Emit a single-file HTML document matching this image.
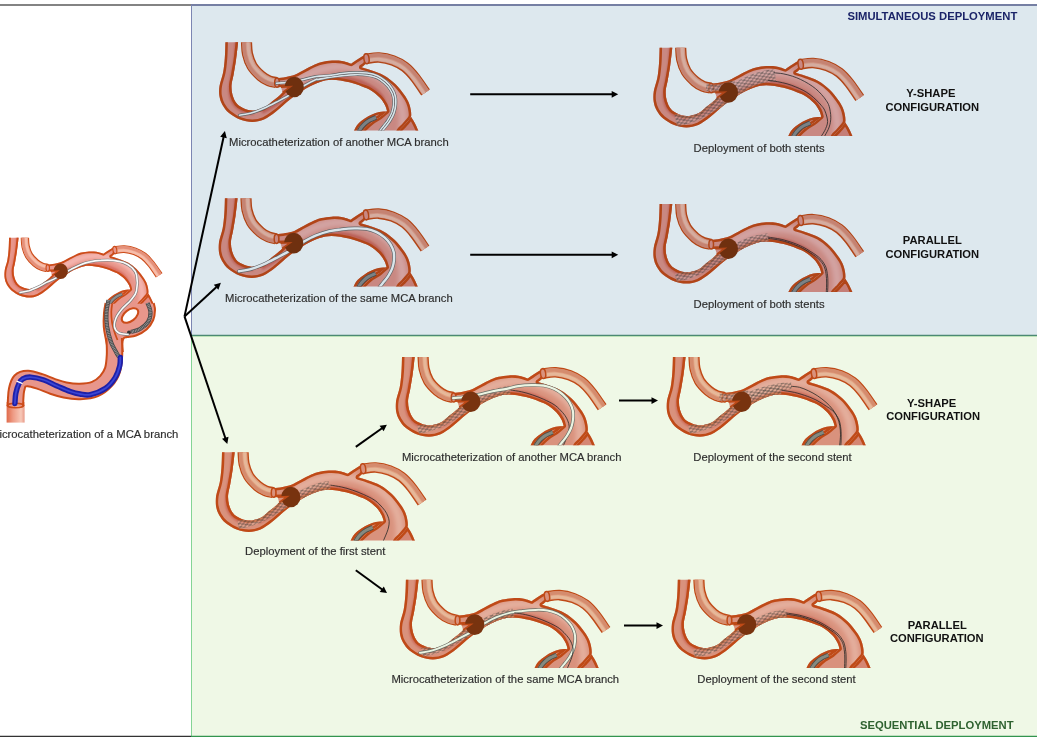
<!DOCTYPE html>
<html><head><meta charset="utf-8"><style>
html,body{margin:0;padding:0;background:#fff;}
svg{display:block;font-family:"Liberation Sans",sans-serif;}
.mul{mix-blend-mode:multiply;}
</style></head><body>
<svg width="1037" height="740" viewBox="0 0 1037 740">
<defs>
<clipPath id="mainclip"><path d="M225.5,34.0 C225.5,35.3 225.5,38.0 225.4,42.0 C225.3,46.0 225.2,52.9 224.8,58.0 C224.4,63.1 224.0,67.7 223.1,72.4 C222.2,77.1 220.1,82.1 219.5,86.0 C218.9,89.9 218.9,92.8 219.4,96.0 C219.9,99.2 220.9,102.2 222.5,105.0 C224.1,107.8 226.1,110.6 229.0,113.0 C231.9,115.4 236.1,118.0 240.0,119.5 C243.9,121.0 248.3,121.9 252.3,121.9 C256.3,121.9 260.1,121.2 264.0,119.5 C267.9,117.8 271.7,114.8 276.0,111.5 C280.3,108.2 285.0,103.3 290.0,99.5 C295.0,95.7 301.0,91.4 306.0,88.5 C311.0,85.6 315.7,83.5 320.0,82.0 C324.3,80.5 327.1,79.8 332.0,79.8 C336.9,79.8 344.4,81.2 349.4,82.3 C354.4,83.4 358.4,85.1 362.0,86.5 C365.6,87.9 368.1,88.7 371.0,90.5 C373.9,92.3 377.4,95.1 379.7,97.5 C382.0,99.9 383.8,102.8 385.0,105.0 C386.2,107.2 386.7,110.0 387.0,111.0 C385.8,112.0 382.5,115.2 380.0,117.0 C377.5,118.8 374.8,119.8 372.0,122.0 C369.2,124.2 365.5,127.7 363.0,130.4 C360.5,133.1 358.0,136.7 357.0,138.0 L396.0,138.0 C396.6,136.7 398.2,132.3 399.4,130.4 C400.6,128.5 401.9,127.9 403.3,126.3 C404.7,124.7 406.7,122.6 408.0,121.0 C409.3,119.4 410.5,118.5 411.0,116.7 C411.5,114.9 411.2,112.5 410.8,110.0 C410.4,107.5 409.6,104.6 408.5,102.0 C407.4,99.4 406.2,97.5 404.0,94.5 C401.8,91.5 398.6,87.2 395.3,84.0 C392.0,80.8 388.1,77.7 384.0,75.4 C379.9,73.1 374.8,71.6 371.0,70.2 C367.2,68.8 363.1,67.7 361.5,67.2 C362.1,66.8 364.0,65.7 365.0,64.5 C366.0,63.3 367.1,61.6 367.5,60.0 C367.9,58.4 367.2,55.7 367.2,54.8 C366.3,55.1 363.8,55.6 362.0,56.5 C360.2,57.4 358.3,58.8 356.5,60.0 C354.7,61.2 352.1,63.1 351.2,63.7 C349.7,63.2 345.2,61.5 342.0,61.0 C338.8,60.5 335.4,60.4 332.1,60.6 C328.8,60.8 324.9,61.4 322.0,62.0 C319.1,62.6 317.7,63.2 314.7,64.5 C311.7,65.8 307.3,68.3 304.0,70.0 C300.7,71.7 297.8,73.6 294.8,74.8 C291.8,76.0 288.9,76.4 286.0,77.0 C283.1,77.6 278.7,78.0 277.2,78.2 L277.4,87.2 L290.5,86.7 L284.5,90.6 C283.7,91.4 281.6,93.7 279.5,95.5 C277.4,97.3 274.6,99.4 272.0,101.5 C269.4,103.6 266.9,106.5 263.6,108.0 C260.3,109.5 255.7,110.6 252.3,110.6 C248.9,110.6 245.6,109.2 243.0,108.0 C240.4,106.8 238.4,105.8 236.7,103.6 C234.9,101.4 233.4,98.1 232.5,95.0 C231.6,91.9 231.3,88.3 231.5,85.0 C231.7,81.7 232.8,79.2 233.5,75.0 C234.2,70.8 235.2,65.5 236.0,60.0 C236.8,54.5 237.8,45.0 238.1,42.0 L238.2,34.0Z"/></clipPath>
<clipPath id="rpclip"><path d="M411.0,116.7 C411.6,117.7 413.3,120.2 414.5,122.5 C415.7,124.8 417.1,127.8 418.2,130.4 C419.3,133.0 420.5,136.7 421.0,138.0 L396.0,138.0 C396.6,136.7 398.2,132.3 399.4,130.4 C400.6,128.5 401.9,127.9 403.3,126.3 C404.7,124.7 406.7,122.6 408.0,121.0 C409.3,119.4 410.5,117.4 411.0,116.7Z"/></clipPath>
<clipPath id="lbclip"><path d="M351.0,138.0 C351.5,136.7 352.9,132.7 354.1,130.4 C355.3,128.1 356.2,126.0 358.0,124.0 C359.8,122.0 362.4,120.2 364.7,118.6 C367.0,117.0 369.6,115.6 372.0,114.5 C374.4,113.4 376.7,112.4 379.2,111.9 C381.7,111.4 385.6,111.5 386.9,111.4 C385.8,112.3 382.5,115.2 380.0,117.0 C377.5,118.8 374.8,119.8 372.0,122.0 C369.2,124.2 365.5,127.7 363.0,130.4 C360.5,133.1 358.0,136.7 357.0,138.0Z"/></clipPath>
<filter id="bl2" x="-20%" y="-20%" width="140%" height="140%"><feGaussianBlur stdDeviation="2"/></filter>
<filter id="bl05" x="-20%" y="-20%" width="140%" height="140%"><feGaussianBlur stdDeviation="0.7"/></filter>
<filter id="bl1" x="-20%" y="-20%" width="140%" height="140%"><feGaussianBlur stdDeviation="1.2"/></filter>
<clipPath id="tclip" clipPathUnits="userSpaceOnUse"><rect x="150" y="42.2" width="320" height="88.2"/></clipPath>
<g id="vessel">
  <path d="M246.4,34.0 C246.4,35.3 246.3,38.7 246.5,42.0 C246.7,45.3 246.6,50.0 247.5,54.0 C248.4,58.0 249.8,62.3 252.0,66.0 C254.2,69.7 258.2,73.5 261.0,76.0 C263.8,78.5 266.4,79.7 269.0,80.8 C271.6,81.9 275.2,82.3 276.5,82.6" fill="none" stroke="#cc4c19" stroke-width="11.2" stroke-linecap="butt"/>
  <path d="M246.4,34.0 C246.4,35.3 246.3,38.7 246.5,42.0 C246.7,45.3 246.6,50.0 247.5,54.0 C248.4,58.0 249.8,62.3 252.0,66.0 C254.2,69.7 258.2,73.5 261.0,76.0 C263.8,78.5 266.4,79.7 269.0,80.8 C271.6,81.9 275.2,82.3 276.5,82.6" fill="none" stroke="#efa48e" stroke-width="8.4" stroke-linecap="butt"/>
  <path d="M243.8,34.0 C243.8,35.4 243.7,38.7 243.9,42.1 C244.1,45.6 244.0,50.4 245.0,54.6 C245.9,58.8 247.4,63.5 249.8,67.4 C252.2,71.3 256.3,75.3 259.3,78.0 C262.3,80.6 265.2,82.0 268.0,83.2 C270.7,84.4 274.6,84.8 275.9,85.1" fill="none" stroke="#e4907a" stroke-width="3.5" stroke-linecap="butt" filter="url(#bl05)"/>
  <path d="M247.9,34.0 C247.9,35.3 247.8,38.6 248.0,41.9 C248.2,45.2 248.1,49.8 249.0,53.7 C249.8,57.5 251.1,61.7 253.3,65.2 C255.4,68.7 259.3,72.5 262.0,74.9 C264.7,77.2 267.1,78.4 269.6,79.4 C272.1,80.5 275.6,80.9 276.9,81.1" fill="none" stroke="#f6bdaa" stroke-width="3" stroke-linecap="butt" filter="url(#bl05)"/>
  <path d="M366.0,58.8 C368.2,58.6 374.5,57.2 379.0,57.5 C383.5,57.8 388.7,58.9 393.0,60.5 C397.3,62.1 401.3,64.2 405.0,67.0 C408.7,69.8 411.6,73.2 415.0,77.5 C418.4,81.8 423.8,90.0 425.5,92.5" fill="none" stroke="#cc4c19" stroke-width="10.6" stroke-linecap="butt"/>
  <path d="M366.0,58.8 C368.2,58.6 374.5,57.2 379.0,57.5 C383.5,57.8 388.7,58.9 393.0,60.5 C397.3,62.1 401.3,64.2 405.0,67.0 C408.7,69.8 411.6,73.2 415.0,77.5 C418.4,81.8 423.8,90.0 425.5,92.5" fill="none" stroke="#efa48e" stroke-width="7.8" stroke-linecap="butt"/>
  <path d="M365.8,56.4 C368.0,56.2 374.5,54.8 379.2,55.1 C383.8,55.4 389.3,56.6 393.8,58.2 C398.4,59.9 402.6,62.1 406.5,65.1 C410.3,68.1 413.4,71.7 416.9,76.0 C420.4,80.3 425.7,88.6 427.5,91.1" fill="none" stroke="#e4907a" stroke-width="3.5" stroke-linecap="butt" filter="url(#bl05)"/>
  <path d="M366.2,60.6 C368.3,60.4 374.5,59.0 378.9,59.3 C383.3,59.6 388.2,60.7 392.4,62.2 C396.6,63.7 400.4,65.7 403.9,68.4 C407.4,71.2 410.2,74.4 413.6,78.6 C417.0,82.8 422.3,91.0 424.0,93.5" fill="none" stroke="#f6bdaa" stroke-width="3" stroke-linecap="butt" filter="url(#bl05)"/>
  <path d="M225.5,34.0 C225.5,35.3 225.5,38.0 225.4,42.0 C225.3,46.0 225.2,52.9 224.8,58.0 C224.4,63.1 224.0,67.7 223.1,72.4 C222.2,77.1 220.1,82.1 219.5,86.0 C218.9,89.9 218.9,92.8 219.4,96.0 C219.9,99.2 220.9,102.2 222.5,105.0 C224.1,107.8 226.1,110.6 229.0,113.0 C231.9,115.4 236.1,118.0 240.0,119.5 C243.9,121.0 248.3,121.9 252.3,121.9 C256.3,121.9 260.1,121.2 264.0,119.5 C267.9,117.8 271.7,114.8 276.0,111.5 C280.3,108.2 285.0,103.3 290.0,99.5 C295.0,95.7 301.0,91.4 306.0,88.5 C311.0,85.6 315.7,83.5 320.0,82.0 C324.3,80.5 327.1,79.8 332.0,79.8 C336.9,79.8 344.4,81.2 349.4,82.3 C354.4,83.4 358.4,85.1 362.0,86.5 C365.6,87.9 368.1,88.7 371.0,90.5 C373.9,92.3 377.4,95.1 379.7,97.5 C382.0,99.9 383.8,102.8 385.0,105.0 C386.2,107.2 386.7,110.0 387.0,111.0 C385.8,112.0 382.5,115.2 380.0,117.0 C377.5,118.8 374.8,119.8 372.0,122.0 C369.2,124.2 365.5,127.7 363.0,130.4 C360.5,133.1 358.0,136.7 357.0,138.0 L396.0,138.0 C396.6,136.7 398.2,132.3 399.4,130.4 C400.6,128.5 401.9,127.9 403.3,126.3 C404.7,124.7 406.7,122.6 408.0,121.0 C409.3,119.4 410.5,118.5 411.0,116.7 C411.5,114.9 411.2,112.5 410.8,110.0 C410.4,107.5 409.6,104.6 408.5,102.0 C407.4,99.4 406.2,97.5 404.0,94.5 C401.8,91.5 398.6,87.2 395.3,84.0 C392.0,80.8 388.1,77.7 384.0,75.4 C379.9,73.1 374.8,71.6 371.0,70.2 C367.2,68.8 363.1,67.7 361.5,67.2 C362.1,66.8 364.0,65.7 365.0,64.5 C366.0,63.3 367.1,61.6 367.5,60.0 C367.9,58.4 367.2,55.7 367.2,54.8 C366.3,55.1 363.8,55.6 362.0,56.5 C360.2,57.4 358.3,58.8 356.5,60.0 C354.7,61.2 352.1,63.1 351.2,63.7 C349.7,63.2 345.2,61.5 342.0,61.0 C338.8,60.5 335.4,60.4 332.1,60.6 C328.8,60.8 324.9,61.4 322.0,62.0 C319.1,62.6 317.7,63.2 314.7,64.5 C311.7,65.8 307.3,68.3 304.0,70.0 C300.7,71.7 297.8,73.6 294.8,74.8 C291.8,76.0 288.9,76.4 286.0,77.0 C283.1,77.6 278.7,78.0 277.2,78.2 L277.4,87.2 L290.5,86.7 L284.5,90.6 C283.7,91.4 281.6,93.7 279.5,95.5 C277.4,97.3 274.6,99.4 272.0,101.5 C269.4,103.6 266.9,106.5 263.6,108.0 C260.3,109.5 255.7,110.6 252.3,110.6 C248.9,110.6 245.6,109.2 243.0,108.0 C240.4,106.8 238.4,105.8 236.7,103.6 C234.9,101.4 233.4,98.1 232.5,95.0 C231.6,91.9 231.3,88.3 231.5,85.0 C231.7,81.7 232.8,79.2 233.5,75.0 C234.2,70.8 235.2,65.5 236.0,60.0 C236.8,54.5 237.8,45.0 238.1,42.0 L238.2,34.0Z" fill="#e8968b"/>
  <g clip-path="url(#mainclip)">
    <path d="M298.0,80.0 C301.3,78.4 311.3,72.8 318.0,70.5 C324.7,68.2 331.3,66.8 338.0,66.5 C344.7,66.2 351.7,67.0 358.0,68.5 C364.3,70.0 370.5,72.4 376.0,75.5 C381.5,78.6 387.0,82.6 391.0,87.0 C395.0,91.4 398.0,96.8 400.0,102.0 C402.0,107.2 402.7,113.0 403.0,118.0 C403.3,123.0 402.2,129.7 402.0,132.0" fill="none" stroke="#f4b4ae" stroke-width="8" filter="url(#bl2)"/>
    <path d="M237.0,40.0 C236.8,43.3 236.3,53.7 235.5,60.0 C234.7,66.3 232.8,72.7 232.0,78.0 C231.2,83.3 230.2,87.8 230.5,92.0 C230.8,96.2 231.8,99.8 234.0,103.0 C236.2,106.2 240.7,109.3 244.0,111.0 C247.3,112.7 252.3,112.7 254.0,113.0" fill="none" stroke="#d8695d" stroke-width="4" filter="url(#bl1)"/>
    <path d="M262.0,112.0 C264.3,110.7 271.0,107.2 276.0,104.0 C281.0,100.8 286.3,96.3 292.0,93.0 C297.7,89.7 303.7,86.4 310.0,84.0 C316.3,81.6 323.3,79.3 330.0,78.5 C336.7,77.7 343.7,77.8 350.0,79.0 C356.3,80.2 362.8,82.7 368.0,85.5 C373.2,88.3 378.0,92.2 381.0,96.0 C384.0,99.8 385.2,106.0 386.0,108.0" fill="none" stroke="#d8695d" stroke-width="4" filter="url(#bl1)"/>
  </g>
  <path d="M225.5,34.0 C225.5,35.3 225.5,38.0 225.4,42.0 C225.3,46.0 225.2,52.9 224.8,58.0 C224.4,63.1 224.0,67.7 223.1,72.4 C222.2,77.1 220.1,82.1 219.5,86.0 C218.9,89.9 218.9,92.8 219.4,96.0 C219.9,99.2 220.9,102.2 222.5,105.0 C224.1,107.8 226.1,110.6 229.0,113.0 C231.9,115.4 236.1,118.0 240.0,119.5 C243.9,121.0 248.3,121.9 252.3,121.9 C256.3,121.9 260.1,121.2 264.0,119.5 C267.9,117.8 271.7,114.8 276.0,111.5 C280.3,108.2 285.0,103.3 290.0,99.5 C295.0,95.7 301.0,91.4 306.0,88.5 C311.0,85.6 315.7,83.5 320.0,82.0 C324.3,80.5 327.1,79.8 332.0,79.8 C336.9,79.8 344.4,81.2 349.4,82.3 C354.4,83.4 358.4,85.1 362.0,86.5 C365.6,87.9 368.1,88.7 371.0,90.5 C373.9,92.3 377.4,95.1 379.7,97.5 C382.0,99.9 383.8,102.8 385.0,105.0 C386.2,107.2 386.7,110.0 387.0,111.0 C385.8,112.0 382.5,115.2 380.0,117.0 C377.5,118.8 374.8,119.8 372.0,122.0 C369.2,124.2 365.5,127.7 363.0,130.4 C360.5,133.1 358.0,136.7 357.0,138.0 L396.0,138.0 C396.6,136.7 398.2,132.3 399.4,130.4 C400.6,128.5 401.9,127.9 403.3,126.3 C404.7,124.7 406.7,122.6 408.0,121.0 C409.3,119.4 410.5,118.5 411.0,116.7 C411.5,114.9 411.2,112.5 410.8,110.0 C410.4,107.5 409.6,104.6 408.5,102.0 C407.4,99.4 406.2,97.5 404.0,94.5 C401.8,91.5 398.6,87.2 395.3,84.0 C392.0,80.8 388.1,77.7 384.0,75.4 C379.9,73.1 374.8,71.6 371.0,70.2 C367.2,68.8 363.1,67.7 361.5,67.2 C362.1,66.8 364.0,65.7 365.0,64.5 C366.0,63.3 367.1,61.6 367.5,60.0 C367.9,58.4 367.2,55.7 367.2,54.8 C366.3,55.1 363.8,55.6 362.0,56.5 C360.2,57.4 358.3,58.8 356.5,60.0 C354.7,61.2 352.1,63.1 351.2,63.7 C349.7,63.2 345.2,61.5 342.0,61.0 C338.8,60.5 335.4,60.4 332.1,60.6 C328.8,60.8 324.9,61.4 322.0,62.0 C319.1,62.6 317.7,63.2 314.7,64.5 C311.7,65.8 307.3,68.3 304.0,70.0 C300.7,71.7 297.8,73.6 294.8,74.8 C291.8,76.0 288.9,76.4 286.0,77.0 C283.1,77.6 278.7,78.0 277.2,78.2 L277.4,87.2 L290.5,86.7 L284.5,90.6 C283.7,91.4 281.6,93.7 279.5,95.5 C277.4,97.3 274.6,99.4 272.0,101.5 C269.4,103.6 266.9,106.5 263.6,108.0 C260.3,109.5 255.7,110.6 252.3,110.6 C248.9,110.6 245.6,109.2 243.0,108.0 C240.4,106.8 238.4,105.8 236.7,103.6 C234.9,101.4 233.4,98.1 232.5,95.0 C231.6,91.9 231.3,88.3 231.5,85.0 C231.7,81.7 232.8,79.2 233.5,75.0 C234.2,70.8 235.2,65.5 236.0,60.0 C236.8,54.5 237.8,45.0 238.1,42.0 L238.2,34.0Z" fill="none" stroke="#cc4c19" stroke-width="5.0" stroke-linejoin="round" clip-path="url(#mainclip)"/>
  <path d="M411.0,116.7 C411.6,117.7 413.3,120.2 414.5,122.5 C415.7,124.8 417.1,127.8 418.2,130.4 C419.3,133.0 420.5,136.7 421.0,138.0 L396.0,138.0 C396.6,136.7 398.2,132.3 399.4,130.4 C400.6,128.5 401.9,127.9 403.3,126.3 C404.7,124.7 406.7,122.6 408.0,121.0 C409.3,119.4 410.5,117.4 411.0,116.7Z" fill="#e48a80"/>
  <path d="M411.0,116.7 C411.6,117.7 413.3,120.2 414.5,122.5 C415.7,124.8 417.1,127.8 418.2,130.4 C419.3,133.0 420.5,136.7 421.0,138.0 L396.0,138.0 C396.6,136.7 398.2,132.3 399.4,130.4 C400.6,128.5 401.9,127.9 403.3,126.3 C404.7,124.7 406.7,122.6 408.0,121.0 C409.3,119.4 410.5,117.4 411.0,116.7Z" fill="none" stroke="#cc4c19" stroke-width="5.0" stroke-linejoin="round" clip-path="url(#rpclip)"/>
  <path d="M351.0,138.0 C351.5,136.7 352.9,132.7 354.1,130.4 C355.3,128.1 356.2,126.0 358.0,124.0 C359.8,122.0 362.4,120.2 364.7,118.6 C367.0,117.0 369.6,115.6 372.0,114.5 C374.4,113.4 376.7,112.4 379.2,111.9 C381.7,111.4 385.6,111.5 386.9,111.4 C385.8,112.3 382.5,115.2 380.0,117.0 C377.5,118.8 374.8,119.8 372.0,122.0 C369.2,124.2 365.5,127.7 363.0,130.4 C360.5,133.1 358.0,136.7 357.0,138.0Z" fill="#e8968b"/>
  <path d="M351.0,138.0 C351.5,136.7 352.9,132.7 354.1,130.4 C355.3,128.1 356.2,126.0 358.0,124.0 C359.8,122.0 362.4,120.2 364.7,118.6 C367.0,117.0 369.6,115.6 372.0,114.5 C374.4,113.4 376.7,112.4 379.2,111.9 C381.7,111.4 385.6,111.5 386.9,111.4 C385.8,112.3 382.5,115.2 380.0,117.0 C377.5,118.8 374.8,119.8 372.0,122.0 C369.2,124.2 365.5,127.7 363.0,130.4 C360.5,133.1 358.0,136.7 357.0,138.0Z" fill="none" stroke="#cc4c19" stroke-width="5.0" stroke-linejoin="round" clip-path="url(#lbclip)"/>
  <ellipse cx="277" cy="82.7" rx="2.3" ry="4.6" fill="#e8968b" stroke="#cc4c19" stroke-width="1.5"/>
  <ellipse cx="366.5" cy="58.8" rx="2.6" ry="5" transform="rotate(-8 366.5 58.8)" fill="#e8968b" stroke="#cc4c19" stroke-width="1.5"/>
</g>
<g id="aneu">
  <ellipse cx="294.2" cy="87.0" rx="9.6" ry="10.3" fill="#803410"/>
  <path d="M281,87.1 L290.5,86.7 L282.6,92.4 Z" fill="#e8968b"/><path d="M281,87.1 L290.5,86.7 L282.6,92.4" fill="none" stroke="#cc4c19" stroke-width="1.6" stroke-linejoin="miter"/>
</g>

<linearGradient id="stubg" x1="0" x2="1" y1="0" y2="0"><stop offset="0" stop-color="#e06a4a"/><stop offset="0.35" stop-color="#ee9a84"/><stop offset="0.8" stop-color="#f7c8b8"/><stop offset="1" stop-color="#e89a88"/></linearGradient>
<pattern id="mesh" width="6.4" height="3.6" patternUnits="userSpaceOnUse" patternTransform="rotate(-22)">
<path d="M0,0 L6.4,3.6 M0,3.6 L6.4,0" stroke="#2c2c2c" stroke-width="0.45" fill="none"/></pattern>
</defs>
<rect x="191" y="4" width="846" height="331" fill="#dde8ee"/>
<rect x="191" y="335" width="846" height="401.5" fill="#eff8e6"/>
<g class="mul"><g transform="translate(0,0)"><g clip-path="url(#tclip)"><use href="#vessel"/><path d="M357.2,136.0 C357.7,134.9 358.8,131.5 360.0,129.5 C361.2,127.5 362.7,125.7 364.3,124.2 C365.9,122.7 367.6,121.4 369.5,120.3 C371.4,119.2 374.9,117.9 376.0,117.4" fill="none" stroke="#505050" stroke-width="4.6" stroke-linecap="butt"/><path d="M357.2,136.0 C357.7,134.9 358.8,131.5 360.0,129.5 C361.2,127.5 362.7,125.7 364.3,124.2 C365.9,122.7 367.6,121.4 369.5,120.3 C371.4,119.2 374.9,117.9 376.0,117.4" fill="none" stroke="#8e8e8e" stroke-width="3" stroke-linecap="butt"/><path d="M239.5,115.2 C241.6,114.8 247.9,114.0 252.0,112.8 C256.1,111.6 260.0,110.0 264.0,108.3 C268.0,106.5 272.2,104.3 276.0,102.3 C279.8,100.3 283.7,98.4 287.0,96.5 C290.3,94.6 293.1,92.6 296.0,90.8 C298.9,89.0 301.1,87.4 304.4,85.5 C307.7,83.6 313.7,80.5 316.0,79.5 C318.3,78.5 315.7,79.9 318.0,79.5 C320.3,79.1 326.0,77.9 330.0,77.2 C334.0,76.5 338.0,76.0 342.1,75.6 C346.3,75.2 350.9,74.7 355.0,74.6 C359.1,74.5 363.3,74.6 366.9,75.1 C370.5,75.6 373.7,76.3 376.6,77.6 C379.6,78.9 382.1,80.8 384.4,82.8 C386.7,84.8 388.8,87.1 390.2,89.5 C391.7,91.8 392.8,94.5 393.3,97.0 C393.9,99.5 393.8,102.1 393.6,104.7 C393.4,107.3 392.8,110.0 392.0,112.5 C391.1,115.0 389.6,117.6 388.2,119.8 C386.9,122.0 385.2,123.9 383.8,125.7 C382.4,127.6 381.0,129.0 379.8,130.8 C378.5,132.5 376.8,135.4 376.2,136.3" fill="none" stroke="#6f6f6f" stroke-width="2.9000000000000004" stroke-linecap="round"/><path d="M239.5,115.2 C241.6,114.8 247.9,114.0 252.0,112.8 C256.1,111.6 260.0,110.0 264.0,108.3 C268.0,106.5 272.2,104.3 276.0,102.3 C279.8,100.3 283.7,98.4 287.0,96.5 C290.3,94.6 293.1,92.6 296.0,90.8 C298.9,89.0 301.1,87.4 304.4,85.5 C307.7,83.6 313.7,80.5 316.0,79.5 C318.3,78.5 315.7,79.9 318.0,79.5 C320.3,79.1 326.0,77.9 330.0,77.2 C334.0,76.5 338.0,76.0 342.1,75.6 C346.3,75.2 350.9,74.7 355.0,74.6 C359.1,74.5 363.3,74.6 366.9,75.1 C370.5,75.6 373.7,76.3 376.6,77.6 C379.6,78.9 382.1,80.8 384.4,82.8 C386.7,84.8 388.8,87.1 390.2,89.5 C391.7,91.8 392.8,94.5 393.3,97.0 C393.9,99.5 393.8,102.1 393.6,104.7 C393.4,107.3 392.8,110.0 392.0,112.5 C391.1,115.0 389.6,117.6 388.2,119.8 C386.9,122.0 385.2,123.9 383.8,125.7 C382.4,127.6 381.0,129.0 379.8,130.8 C378.5,132.5 376.8,135.4 376.2,136.3" fill="none" stroke="#fbfbfb" stroke-width="1.6" stroke-linecap="round"/><path d="M276.5,83.3 C277.9,83.2 282.1,82.9 285.0,82.6 C287.9,82.2 291.1,81.7 294.0,81.2 C296.9,80.7 298.9,80.5 302.6,79.7 C306.3,78.9 311.4,77.2 316.0,76.5 C320.6,75.8 325.7,75.9 330.0,75.4 C334.3,74.9 337.7,74.0 341.8,73.5 C346.0,73.0 350.8,72.6 355.0,72.5 C359.2,72.4 363.4,72.5 367.2,73.0 C370.9,73.5 374.4,74.3 377.5,75.7 C380.6,77.1 383.4,79.1 385.8,81.2 C388.2,83.3 390.4,85.8 392.0,88.4 C393.6,90.9 394.8,93.8 395.4,96.5 C396.0,99.3 395.9,102.1 395.7,104.9 C395.5,107.7 394.9,110.5 393.9,113.2 C393.0,115.9 391.4,118.6 390.0,120.9 C388.6,123.2 386.9,125.2 385.4,127.0 C384.0,128.9 382.7,130.3 381.5,132.0 C380.2,133.7 378.6,136.5 378.0,137.4" fill="none" stroke="#6f6f6f" stroke-width="2.9000000000000004" stroke-linecap="round"/><path d="M276.5,83.3 C277.9,83.2 282.1,82.9 285.0,82.6 C287.9,82.2 291.1,81.7 294.0,81.2 C296.9,80.7 298.9,80.5 302.6,79.7 C306.3,78.9 311.4,77.2 316.0,76.5 C320.6,75.8 325.7,75.9 330.0,75.4 C334.3,74.9 337.7,74.0 341.8,73.5 C346.0,73.0 350.8,72.6 355.0,72.5 C359.2,72.4 363.4,72.5 367.2,73.0 C370.9,73.5 374.4,74.3 377.5,75.7 C380.6,77.1 383.4,79.1 385.8,81.2 C388.2,83.3 390.4,85.8 392.0,88.4 C393.6,90.9 394.8,93.8 395.4,96.5 C396.0,99.3 395.9,102.1 395.7,104.9 C395.5,107.7 394.9,110.5 393.9,113.2 C393.0,115.9 391.4,118.6 390.0,120.9 C388.6,123.2 386.9,125.2 385.4,127.0 C384.0,128.9 382.7,130.3 381.5,132.0 C380.2,133.7 378.6,136.5 378.0,137.4" fill="none" stroke="#fbfbfb" stroke-width="1.6" stroke-linecap="round"/></g><use href="#aneu"/></g><g transform="translate(434.2,5.5)"><g clip-path="url(#tclip)"><use href="#vessel"/><path d="M357.2,136.0 C357.7,134.9 358.8,131.5 360.0,129.5 C361.2,127.5 362.7,125.7 364.3,124.2 C365.9,122.7 367.6,121.4 369.5,120.3 C371.4,119.2 374.9,117.9 376.0,117.4" fill="none" stroke="#505050" stroke-width="4.6" stroke-linecap="butt"/><path d="M357.2,136.0 C357.7,134.9 358.8,131.5 360.0,129.5 C361.2,127.5 362.7,125.7 364.3,124.2 C365.9,122.7 367.6,121.4 369.5,120.3 C371.4,119.2 374.9,117.9 376.0,117.4" fill="none" stroke="#8e8e8e" stroke-width="3" stroke-linecap="butt"/><g clip-path="url(#mainclip)"><path d="M241.5,115.0 C243.2,114.6 248.4,113.6 252.0,112.5 C255.6,111.4 259.3,110.2 263.0,108.5 C266.7,106.8 270.3,104.6 274.0,102.5 C277.7,100.4 281.3,98.3 285.0,96.0 C288.7,93.7 292.3,91.1 296.0,88.5 C299.7,85.9 303.2,82.8 307.0,80.5 C310.8,78.2 314.7,76.2 319.0,74.5 C323.3,72.8 329.3,71.3 333.0,70.5 C336.7,69.7 339.7,69.7 341.0,69.5" fill="none" stroke="#f6bcb4" stroke-opacity="0.45" stroke-width="12" stroke-linecap="butt"/><path d="M241.5,115.0 C243.2,114.6 248.4,113.6 252.0,112.5 C255.6,111.4 259.3,110.2 263.0,108.5 C266.7,106.8 270.3,104.6 274.0,102.5 C277.7,100.4 281.3,98.3 285.0,96.0 C288.7,93.7 292.3,91.1 296.0,88.5 C299.7,85.9 303.2,82.8 307.0,80.5 C310.8,78.2 314.7,76.2 319.0,74.5 C323.3,72.8 329.3,71.3 333.0,70.5 C336.7,69.7 339.7,69.7 341.0,69.5" fill="none" stroke="url(#mesh)" stroke-width="12" stroke-linecap="butt"/></g><g><path d="M272.0,82.0 C273.5,82.1 277.8,82.7 281.0,82.5 C284.2,82.3 287.7,81.8 291.0,81.0 C294.3,80.2 299.3,78.5 301.0,78.0" fill="none" stroke="#f6bcb4" stroke-opacity="0.45" stroke-width="7" stroke-linecap="butt"/><path d="M272.0,82.0 C273.5,82.1 277.8,82.7 281.0,82.5 C284.2,82.3 287.7,81.8 291.0,81.0 C294.3,80.2 299.3,78.5 301.0,78.0" fill="none" stroke="url(#mesh)" stroke-width="7" stroke-linecap="butt"/></g><path d="M339.9,67.3 C341.4,67.5 345.9,67.7 349.0,68.3 C352.1,68.9 355.3,69.8 358.2,70.7 C361.1,71.7 363.8,72.7 366.5,74.0 C369.2,75.3 371.9,76.8 374.4,78.3 C376.9,79.8 379.3,81.5 381.5,83.3 C383.7,85.1 385.6,87.1 387.4,89.1 C389.1,91.0 390.7,93.0 392.0,95.0 C393.3,97.0 394.2,98.2 395.0,101.0 C395.8,103.8 396.6,108.4 396.6,111.8 C396.6,115.2 396.0,118.4 395.0,121.5 C394.0,124.6 391.9,127.8 390.7,130.2 C389.4,132.6 388.0,135.0 387.5,136.0" fill="none" stroke="#2a2a2a" stroke-width="0.8" stroke-linecap="round"/><path d="M334.4,75.0 C335.9,75.2 340.4,75.7 343.5,76.2 C346.6,76.8 349.9,77.5 352.8,78.3 C355.7,79.1 358.3,80.1 361.0,81.2 C363.7,82.3 366.5,83.5 369.0,84.8 C371.5,86.1 373.8,87.7 376.0,89.3 C378.2,90.9 380.2,92.8 382.0,94.5 C383.8,96.2 385.6,98.0 387.0,99.8 C388.4,101.6 389.6,102.6 390.7,105.3 C391.8,108.0 393.4,112.8 393.4,116.1 C393.4,119.3 391.7,122.5 390.7,124.8 C389.7,127.1 388.5,128.3 387.4,130.2 C386.3,132.1 384.6,135.0 384.0,136.0" fill="none" stroke="#2a2a2a" stroke-width="0.8" stroke-linecap="round"/></g><use href="#aneu"/></g><g transform="translate(-0.5,156.1)"><g clip-path="url(#tclip)"><use href="#vessel"/><path d="M357.2,136.0 C357.7,134.9 358.8,131.5 360.0,129.5 C361.2,127.5 362.7,125.7 364.3,124.2 C365.9,122.7 367.6,121.4 369.5,120.3 C371.4,119.2 374.9,117.9 376.0,117.4" fill="none" stroke="#505050" stroke-width="4.6" stroke-linecap="butt"/><path d="M357.2,136.0 C357.7,134.9 358.8,131.5 360.0,129.5 C361.2,127.5 362.7,125.7 364.3,124.2 C365.9,122.7 367.6,121.4 369.5,120.3 C371.4,119.2 374.9,117.9 376.0,117.4" fill="none" stroke="#8e8e8e" stroke-width="3" stroke-linecap="butt"/><path d="M239.5,115.2 C241.6,114.8 247.9,114.0 252.0,112.8 C256.1,111.6 260.0,110.0 264.0,108.3 C268.0,106.5 272.2,104.3 276.0,102.3 C279.8,100.3 283.7,98.4 287.0,96.5 C290.3,94.6 293.1,92.6 296.0,90.8 C298.9,89.0 301.1,87.4 304.4,85.5 C307.7,83.6 311.7,81.2 316.0,79.5 C320.3,77.8 325.7,76.0 330.0,75.0 C334.3,74.0 337.8,73.8 342.0,73.3 C346.2,72.8 350.8,72.4 355.0,72.3 C359.2,72.2 363.3,72.2 367.0,72.8 C370.7,73.4 374.0,74.6 377.0,76.0 C380.0,77.4 382.7,79.3 385.0,81.3 C387.3,83.3 389.5,85.8 391.0,88.2 C392.5,90.7 393.6,93.4 394.2,96.0 C394.8,98.6 394.7,101.3 394.5,104.0 C394.3,106.7 393.7,109.4 392.8,112.0 C391.9,114.6 390.4,117.2 389.0,119.5 C387.6,121.8 385.9,123.7 384.5,125.5 C383.1,127.3 381.8,128.8 380.5,130.5 C379.2,132.2 377.6,135.1 377.0,136.0" fill="none" stroke="#6f6f6f" stroke-width="3.7" stroke-linecap="round"/><path d="M239.5,115.2 C241.6,114.8 247.9,114.0 252.0,112.8 C256.1,111.6 260.0,110.0 264.0,108.3 C268.0,106.5 272.2,104.3 276.0,102.3 C279.8,100.3 283.7,98.4 287.0,96.5 C290.3,94.6 293.1,92.6 296.0,90.8 C298.9,89.0 301.1,87.4 304.4,85.5 C307.7,83.6 311.7,81.2 316.0,79.5 C320.3,77.8 325.7,76.0 330.0,75.0 C334.3,74.0 337.8,73.8 342.0,73.3 C346.2,72.8 350.8,72.4 355.0,72.3 C359.2,72.2 363.3,72.2 367.0,72.8 C370.7,73.4 374.0,74.6 377.0,76.0 C380.0,77.4 382.7,79.3 385.0,81.3 C387.3,83.3 389.5,85.8 391.0,88.2 C392.5,90.7 393.6,93.4 394.2,96.0 C394.8,98.6 394.7,101.3 394.5,104.0 C394.3,106.7 393.7,109.4 392.8,112.0 C391.9,114.6 390.4,117.2 389.0,119.5 C387.6,121.8 385.9,123.7 384.5,125.5 C383.1,127.3 381.8,128.8 380.5,130.5 C379.2,132.2 377.6,135.1 377.0,136.0" fill="none" stroke="#fbfbfb" stroke-width="2.4" stroke-linecap="round"/></g><use href="#aneu"/></g><g transform="translate(434.2,161.7)"><g clip-path="url(#tclip)"><use href="#vessel"/><path d="M357.2,136.0 C357.7,134.9 358.8,131.5 360.0,129.5 C361.2,127.5 362.7,125.7 364.3,124.2 C365.9,122.7 367.6,121.4 369.5,120.3 C371.4,119.2 374.9,117.9 376.0,117.4" fill="none" stroke="#505050" stroke-width="4.6" stroke-linecap="butt"/><path d="M357.2,136.0 C357.7,134.9 358.8,131.5 360.0,129.5 C361.2,127.5 362.7,125.7 364.3,124.2 C365.9,122.7 367.6,121.4 369.5,120.3 C371.4,119.2 374.9,117.9 376.0,117.4" fill="none" stroke="#8e8e8e" stroke-width="3" stroke-linecap="butt"/><g clip-path="url(#mainclip)"><path d="M241.5,116.0 C243.2,115.6 248.4,114.9 252.0,113.8 C255.6,112.7 259.3,111.2 263.0,109.5 C266.7,107.8 270.3,105.6 274.0,103.5 C277.7,101.4 281.3,99.2 285.0,97.0 C288.7,94.8 292.3,92.2 296.0,90.0 C299.7,87.8 303.2,85.4 307.0,83.5 C310.8,81.6 314.5,79.8 319.0,78.5 C323.5,77.2 331.5,76.0 334.0,75.5" fill="none" stroke="#f6bcb4" stroke-opacity="0.45" stroke-width="8" stroke-linecap="butt"/><path d="M241.5,116.0 C243.2,115.6 248.4,114.9 252.0,113.8 C255.6,112.7 259.3,111.2 263.0,109.5 C266.7,107.8 270.3,105.6 274.0,103.5 C277.7,101.4 281.3,99.2 285.0,97.0 C288.7,94.8 292.3,92.2 296.0,90.0 C299.7,87.8 303.2,85.4 307.0,83.5 C310.8,81.6 314.5,79.8 319.0,78.5 C323.5,77.2 331.5,76.0 334.0,75.5" fill="none" stroke="url(#mesh)" stroke-width="8" stroke-linecap="butt"/></g><path d="M334.2,75.4 C336.3,75.8 342.7,76.6 347.0,77.6 C351.3,78.6 356.2,80.2 359.8,81.5 C363.4,82.8 365.8,83.9 368.5,85.2 C371.2,86.5 373.8,88.2 376.0,89.6 C378.2,91.0 380.2,92.2 382.0,93.5 C383.8,94.8 385.5,96.2 386.8,97.7 C388.1,99.2 389.1,100.6 390.0,102.2 C390.9,103.8 391.6,104.8 392.2,107.2 C392.8,109.6 393.4,113.4 393.6,116.6 C393.8,119.8 393.7,122.9 393.6,126.1 C393.5,129.3 393.1,134.3 393.0,136.0" fill="none" stroke="#2a2a2a" stroke-width="0.8" stroke-linecap="round"/><path d="M334.2,76.6 C336.3,77.0 342.8,77.8 347.0,78.8 C351.2,79.8 355.9,81.4 359.4,82.7 C362.9,84.0 365.4,85.1 368.0,86.4 C370.6,87.7 373.1,89.3 375.3,90.7 C377.5,92.1 379.4,93.3 381.2,94.6 C382.9,95.9 384.5,97.2 385.8,98.6 C387.1,100.0 388.1,101.5 389.0,103.0 C389.9,104.5 390.4,105.5 391.0,107.8 C391.6,110.1 392.1,113.8 392.3,116.8 C392.5,119.8 392.4,122.9 392.3,126.1 C392.2,129.3 391.8,134.3 391.7,136.0" fill="none" stroke="#2a2a2a" stroke-width="0.8" stroke-linecap="round"/></g><use href="#aneu"/></g><g transform="translate(176.6,314.8)"><g clip-path="url(#tclip)"><use href="#vessel"/><path d="M357.2,136.0 C357.7,134.9 358.8,131.5 360.0,129.5 C361.2,127.5 362.7,125.7 364.3,124.2 C365.9,122.7 367.6,121.4 369.5,120.3 C371.4,119.2 374.9,117.9 376.0,117.4" fill="none" stroke="#505050" stroke-width="4.6" stroke-linecap="butt"/><path d="M357.2,136.0 C357.7,134.9 358.8,131.5 360.0,129.5 C361.2,127.5 362.7,125.7 364.3,124.2 C365.9,122.7 367.6,121.4 369.5,120.3 C371.4,119.2 374.9,117.9 376.0,117.4" fill="none" stroke="#8e8e8e" stroke-width="3" stroke-linecap="butt"/><g clip-path="url(#mainclip)"><path d="M241.5,115.0 C243.2,114.6 248.4,113.6 252.0,112.5 C255.6,111.4 259.3,110.2 263.0,108.5 C266.7,106.8 270.3,104.6 274.0,102.5 C277.7,100.4 281.3,98.2 285.0,96.0 C288.7,93.8 292.3,91.6 296.0,89.5 C299.7,87.4 303.2,85.3 307.0,83.5 C310.8,81.7 314.7,79.9 319.0,78.5 C323.3,77.1 330.7,75.6 333.0,75.0" fill="none" stroke="#f6bcb4" stroke-opacity="0.45" stroke-width="8.5" stroke-linecap="butt"/><path d="M241.5,115.0 C243.2,114.6 248.4,113.6 252.0,112.5 C255.6,111.4 259.3,110.2 263.0,108.5 C266.7,106.8 270.3,104.6 274.0,102.5 C277.7,100.4 281.3,98.2 285.0,96.0 C288.7,93.8 292.3,91.6 296.0,89.5 C299.7,87.4 303.2,85.3 307.0,83.5 C310.8,81.7 314.7,79.9 319.0,78.5 C323.3,77.1 330.7,75.6 333.0,75.0" fill="none" stroke="url(#mesh)" stroke-width="8.5" stroke-linecap="butt"/></g><path d="M334.2,75.2 C336.0,75.5 341.4,76.2 345.0,77.0 C348.6,77.8 352.1,78.8 355.8,80.1 C359.5,81.3 363.4,82.9 367.0,84.5 C370.6,86.1 374.6,88.0 377.4,89.8 C380.1,91.5 381.7,93.2 383.5,95.0 C385.3,96.8 387.0,98.8 388.3,100.6 C389.6,102.4 390.5,104.2 391.2,106.0 C391.9,107.8 392.5,109.6 392.6,111.4 C392.7,113.2 392.4,115.2 392.0,117.0 C391.6,118.8 391.2,120.1 390.4,122.2 C389.6,124.3 388.2,127.5 387.2,129.8 C386.2,132.1 384.9,135.0 384.5,136.0" fill="none" stroke="#2a2a2a" stroke-width="0.8" stroke-linecap="round"/><path d="M276.5,83.3 C277.9,83.2 282.1,82.9 285.0,82.6 C287.9,82.2 291.1,81.7 294.0,81.2 C296.9,80.7 298.9,80.5 302.6,79.7 C306.3,78.9 311.4,77.5 316.0,76.5 C320.6,75.5 325.7,74.9 330.0,74.0 C334.3,73.1 337.5,71.9 341.7,71.3 C345.9,70.7 350.7,70.4 355.0,70.3 C359.2,70.2 363.5,70.2 367.3,70.8 C371.1,71.5 374.7,72.7 377.9,74.2 C381.0,75.7 383.8,77.6 386.3,79.8 C388.8,82.0 391.1,84.5 392.7,87.1 C394.3,89.8 395.5,92.7 396.2,95.6 C396.8,98.4 396.7,101.3 396.5,104.2 C396.2,107.0 395.6,109.9 394.7,112.7 C393.7,115.4 392.1,118.2 390.7,120.5 C389.3,122.9 387.5,124.9 386.1,126.7 C384.7,128.6 383.4,129.9 382.1,131.7 C380.9,133.4 379.3,136.2 378.7,137.1" fill="none" stroke="#6f6f6f" stroke-width="3.5" stroke-linecap="round"/><path d="M276.5,83.3 C277.9,83.2 282.1,82.9 285.0,82.6 C287.9,82.2 291.1,81.7 294.0,81.2 C296.9,80.7 298.9,80.5 302.6,79.7 C306.3,78.9 311.4,77.5 316.0,76.5 C320.6,75.5 325.7,74.9 330.0,74.0 C334.3,73.1 337.5,71.9 341.7,71.3 C345.9,70.7 350.7,70.4 355.0,70.3 C359.2,70.2 363.5,70.2 367.3,70.8 C371.1,71.5 374.7,72.7 377.9,74.2 C381.0,75.7 383.8,77.6 386.3,79.8 C388.8,82.0 391.1,84.5 392.7,87.1 C394.3,89.8 395.5,92.7 396.2,95.6 C396.8,98.4 396.7,101.3 396.5,104.2 C396.2,107.0 395.6,109.9 394.7,112.7 C393.7,115.4 392.1,118.2 390.7,120.5 C389.3,122.9 387.5,124.9 386.1,126.7 C384.7,128.6 383.4,129.9 382.1,131.7 C380.9,133.4 379.3,136.2 378.7,137.1" fill="none" stroke="#fbfbfb" stroke-width="2.2" stroke-linecap="round"/></g><use href="#aneu"/></g><g transform="translate(447.5,314.8)"><g clip-path="url(#tclip)"><use href="#vessel"/><path d="M357.2,136.0 C357.7,134.9 358.8,131.5 360.0,129.5 C361.2,127.5 362.7,125.7 364.3,124.2 C365.9,122.7 367.6,121.4 369.5,120.3 C371.4,119.2 374.9,117.9 376.0,117.4" fill="none" stroke="#505050" stroke-width="4.6" stroke-linecap="butt"/><path d="M357.2,136.0 C357.7,134.9 358.8,131.5 360.0,129.5 C361.2,127.5 362.7,125.7 364.3,124.2 C365.9,122.7 367.6,121.4 369.5,120.3 C371.4,119.2 374.9,117.9 376.0,117.4" fill="none" stroke="#8e8e8e" stroke-width="3" stroke-linecap="butt"/><g clip-path="url(#mainclip)"><path d="M241.5,115.0 C243.2,114.6 248.4,113.6 252.0,112.5 C255.6,111.4 259.3,110.2 263.0,108.5 C266.7,106.8 270.3,104.6 274.0,102.5 C277.7,100.4 281.3,98.2 285.0,96.0 C288.7,93.8 292.3,91.6 296.0,89.5 C299.7,87.4 303.2,85.3 307.0,83.5 C310.8,81.7 314.7,79.9 319.0,78.5 C323.3,77.1 330.7,75.6 333.0,75.0" fill="none" stroke="#f6bcb4" stroke-opacity="0.45" stroke-width="8.5" stroke-linecap="butt"/><path d="M241.5,115.0 C243.2,114.6 248.4,113.6 252.0,112.5 C255.6,111.4 259.3,110.2 263.0,108.5 C266.7,106.8 270.3,104.6 274.0,102.5 C277.7,100.4 281.3,98.2 285.0,96.0 C288.7,93.8 292.3,91.6 296.0,89.5 C299.7,87.4 303.2,85.3 307.0,83.5 C310.8,81.7 314.7,79.9 319.0,78.5 C323.3,77.1 330.7,75.6 333.0,75.0" fill="none" stroke="url(#mesh)" stroke-width="8.5" stroke-linecap="butt"/></g><g><path d="M272.0,82.0 C273.5,82.1 277.8,82.7 281.0,82.5 C284.2,82.3 287.7,81.8 291.0,81.0 C294.3,80.2 299.3,78.5 301.0,78.0" fill="none" stroke="#f6bcb4" stroke-opacity="0.45" stroke-width="7" stroke-linecap="butt"/><path d="M272.0,82.0 C273.5,82.1 277.8,82.7 281.0,82.5 C284.2,82.3 287.7,81.8 291.0,81.0 C294.3,80.2 299.3,78.5 301.0,78.0" fill="none" stroke="url(#mesh)" stroke-width="7" stroke-linecap="butt"/></g><g clip-path="url(#mainclip)"><path d="M301.0,80.5 C302.8,79.9 308.2,78.0 312.0,76.8 C315.8,75.6 320.0,74.4 324.0,73.5 C328.0,72.6 332.7,71.9 336.0,71.5 C339.3,71.1 342.7,71.1 344.0,71.0" fill="none" stroke="#f6bcb4" stroke-opacity="0.45" stroke-width="7" stroke-linecap="butt"/><path d="M301.0,80.5 C302.8,79.9 308.2,78.0 312.0,76.8 C315.8,75.6 320.0,74.4 324.0,73.5 C328.0,72.6 332.7,71.9 336.0,71.5 C339.3,71.1 342.7,71.1 344.0,71.0" fill="none" stroke="url(#mesh)" stroke-width="7" stroke-linecap="butt"/></g><path d="M334.2,75.4 C336.3,75.8 342.7,76.6 347.0,77.6 C351.3,78.6 356.2,80.2 359.8,81.5 C363.4,82.8 365.8,83.9 368.5,85.2 C371.2,86.5 373.8,88.2 376.0,89.6 C378.2,91.0 380.2,92.2 382.0,93.5 C383.8,94.8 385.5,96.2 386.8,97.7 C388.1,99.2 389.1,100.6 390.0,102.2 C390.9,103.8 391.6,104.8 392.2,107.2 C392.8,109.6 393.4,113.4 393.6,116.6 C393.8,119.8 393.7,122.9 393.6,126.1 C393.5,129.3 393.1,134.3 393.0,136.0" fill="none" stroke="#2a2a2a" stroke-width="0.8" stroke-linecap="round"/><path d="M344.0,71.5 C345.3,71.7 349.2,71.8 352.0,72.5 C354.8,73.2 358.0,74.6 361.0,76.0 C364.0,77.4 367.1,79.1 370.0,81.0 C372.9,82.9 375.9,85.2 378.5,87.5 C381.1,89.8 383.6,92.4 385.5,95.0 C387.4,97.6 388.9,100.3 390.0,103.0 C391.1,105.7 391.8,108.2 392.3,111.0 C392.8,113.8 393.0,116.8 393.0,120.0 C393.0,123.2 392.4,127.5 392.2,130.2 C391.9,132.9 391.6,135.0 391.5,136.0" fill="none" stroke="#2a2a2a" stroke-width="0.8" stroke-linecap="round"/></g><use href="#aneu"/></g><g transform="translate(-3.4,410.0)"><g clip-path="url(#tclip)"><use href="#vessel"/><path d="M357.2,136.0 C357.7,134.9 358.8,131.5 360.0,129.5 C361.2,127.5 362.7,125.7 364.3,124.2 C365.9,122.7 367.6,121.4 369.5,120.3 C371.4,119.2 374.9,117.9 376.0,117.4" fill="none" stroke="#505050" stroke-width="4.6" stroke-linecap="butt"/><path d="M357.2,136.0 C357.7,134.9 358.8,131.5 360.0,129.5 C361.2,127.5 362.7,125.7 364.3,124.2 C365.9,122.7 367.6,121.4 369.5,120.3 C371.4,119.2 374.9,117.9 376.0,117.4" fill="none" stroke="#8e8e8e" stroke-width="3" stroke-linecap="butt"/><g clip-path="url(#mainclip)"><path d="M241.5,115.0 C243.2,114.6 248.4,113.6 252.0,112.5 C255.6,111.4 259.3,110.2 263.0,108.5 C266.7,106.8 270.3,104.6 274.0,102.5 C277.7,100.4 281.3,98.2 285.0,96.0 C288.7,93.8 292.3,91.6 296.0,89.5 C299.7,87.4 303.2,85.3 307.0,83.5 C310.8,81.7 314.7,79.9 319.0,78.5 C323.3,77.1 330.7,75.6 333.0,75.0" fill="none" stroke="#f6bcb4" stroke-opacity="0.45" stroke-width="8.5" stroke-linecap="butt"/><path d="M241.5,115.0 C243.2,114.6 248.4,113.6 252.0,112.5 C255.6,111.4 259.3,110.2 263.0,108.5 C266.7,106.8 270.3,104.6 274.0,102.5 C277.7,100.4 281.3,98.2 285.0,96.0 C288.7,93.8 292.3,91.6 296.0,89.5 C299.7,87.4 303.2,85.3 307.0,83.5 C310.8,81.7 314.7,79.9 319.0,78.5 C323.3,77.1 330.7,75.6 333.0,75.0" fill="none" stroke="url(#mesh)" stroke-width="8.5" stroke-linecap="butt"/></g><path d="M334.2,75.2 C336.0,75.5 341.4,76.2 345.0,77.0 C348.6,77.8 352.1,78.8 355.8,80.1 C359.5,81.3 363.4,82.9 367.0,84.5 C370.6,86.1 374.6,88.0 377.4,89.8 C380.1,91.5 381.7,93.2 383.5,95.0 C385.3,96.8 387.0,98.8 388.3,100.6 C389.6,102.4 390.5,104.2 391.2,106.0 C391.9,107.8 392.5,109.6 392.6,111.4 C392.7,113.2 392.4,115.2 392.0,117.0 C391.6,118.8 391.2,120.1 390.4,122.2 C389.6,124.3 388.2,127.5 387.2,129.8 C386.2,132.1 384.9,135.0 384.5,136.0" fill="none" stroke="#2a2a2a" stroke-width="0.8" stroke-linecap="round"/></g><use href="#aneu"/></g><g transform="translate(180.5,537.6)"><g clip-path="url(#tclip)"><use href="#vessel"/><path d="M357.2,136.0 C357.7,134.9 358.8,131.5 360.0,129.5 C361.2,127.5 362.7,125.7 364.3,124.2 C365.9,122.7 367.6,121.4 369.5,120.3 C371.4,119.2 374.9,117.9 376.0,117.4" fill="none" stroke="#505050" stroke-width="4.6" stroke-linecap="butt"/><path d="M357.2,136.0 C357.7,134.9 358.8,131.5 360.0,129.5 C361.2,127.5 362.7,125.7 364.3,124.2 C365.9,122.7 367.6,121.4 369.5,120.3 C371.4,119.2 374.9,117.9 376.0,117.4" fill="none" stroke="#8e8e8e" stroke-width="3" stroke-linecap="butt"/><g clip-path="url(#mainclip)"><path d="M241.5,115.0 C243.2,114.6 248.4,113.6 252.0,112.5 C255.6,111.4 259.3,110.2 263.0,108.5 C266.7,106.8 270.3,104.6 274.0,102.5 C277.7,100.4 281.3,98.2 285.0,96.0 C288.7,93.8 292.3,91.6 296.0,89.5 C299.7,87.4 303.2,85.3 307.0,83.5 C310.8,81.7 314.7,79.9 319.0,78.5 C323.3,77.1 330.7,75.6 333.0,75.0" fill="none" stroke="#f6bcb4" stroke-opacity="0.45" stroke-width="8.5" stroke-linecap="butt"/><path d="M241.5,115.0 C243.2,114.6 248.4,113.6 252.0,112.5 C255.6,111.4 259.3,110.2 263.0,108.5 C266.7,106.8 270.3,104.6 274.0,102.5 C277.7,100.4 281.3,98.2 285.0,96.0 C288.7,93.8 292.3,91.6 296.0,89.5 C299.7,87.4 303.2,85.3 307.0,83.5 C310.8,81.7 314.7,79.9 319.0,78.5 C323.3,77.1 330.7,75.6 333.0,75.0" fill="none" stroke="url(#mesh)" stroke-width="8.5" stroke-linecap="butt"/></g><path d="M239.5,115.2 C241.6,114.8 247.9,114.0 252.0,112.8 C256.1,111.6 260.0,110.0 264.0,108.3 C268.0,106.5 272.2,104.3 276.0,102.3 C279.8,100.3 283.7,98.4 287.0,96.5 C290.3,94.6 293.1,92.6 296.0,90.8 C298.9,89.0 301.1,87.4 304.4,85.5 C307.7,83.6 311.7,81.2 316.0,79.5 C320.3,77.8 325.7,76.0 330.0,75.0 C334.3,74.0 337.8,73.8 342.0,73.3 C346.2,72.8 350.8,72.4 355.0,72.3 C359.2,72.2 363.3,72.2 367.0,72.8 C370.7,73.4 374.0,74.6 377.0,76.0 C380.0,77.4 382.7,79.3 385.0,81.3 C387.3,83.3 389.5,85.8 391.0,88.2 C392.5,90.7 393.6,93.4 394.2,96.0 C394.8,98.6 394.7,101.3 394.5,104.0 C394.3,106.7 393.7,109.4 392.8,112.0 C391.9,114.6 390.4,117.2 389.0,119.5 C387.6,121.8 385.9,123.7 384.5,125.5 C383.1,127.3 381.8,128.8 380.5,130.5 C379.2,132.2 377.6,135.1 377.0,136.0" fill="none" stroke="#6f6f6f" stroke-width="3.3" stroke-linecap="round"/><path d="M239.5,115.2 C241.6,114.8 247.9,114.0 252.0,112.8 C256.1,111.6 260.0,110.0 264.0,108.3 C268.0,106.5 272.2,104.3 276.0,102.3 C279.8,100.3 283.7,98.4 287.0,96.5 C290.3,94.6 293.1,92.6 296.0,90.8 C298.9,89.0 301.1,87.4 304.4,85.5 C307.7,83.6 311.7,81.2 316.0,79.5 C320.3,77.8 325.7,76.0 330.0,75.0 C334.3,74.0 337.8,73.8 342.0,73.3 C346.2,72.8 350.8,72.4 355.0,72.3 C359.2,72.2 363.3,72.2 367.0,72.8 C370.7,73.4 374.0,74.6 377.0,76.0 C380.0,77.4 382.7,79.3 385.0,81.3 C387.3,83.3 389.5,85.8 391.0,88.2 C392.5,90.7 393.6,93.4 394.2,96.0 C394.8,98.6 394.7,101.3 394.5,104.0 C394.3,106.7 393.7,109.4 392.8,112.0 C391.9,114.6 390.4,117.2 389.0,119.5 C387.6,121.8 385.9,123.7 384.5,125.5 C383.1,127.3 381.8,128.8 380.5,130.5 C379.2,132.2 377.6,135.1 377.0,136.0" fill="none" stroke="#fbfbfb" stroke-width="2.0" stroke-linecap="round"/><path d="M334.2,75.2 C336.0,75.5 341.4,76.2 345.0,77.0 C348.6,77.8 352.1,78.8 355.8,80.1 C359.5,81.3 363.4,82.9 367.0,84.5 C370.6,86.1 374.6,88.0 377.4,89.8 C380.1,91.5 381.7,93.2 383.5,95.0 C385.3,96.8 387.0,98.8 388.3,100.6 C389.6,102.4 390.5,104.2 391.2,106.0 C391.9,107.8 392.5,109.6 392.6,111.4 C392.7,113.2 392.4,115.2 392.0,117.0 C391.6,118.8 391.2,120.1 390.4,122.2 C389.6,124.3 388.2,127.5 387.2,129.8 C386.2,132.1 384.9,135.0 384.5,136.0" fill="none" stroke="#2a2a2a" stroke-width="0.8" stroke-linecap="round"/></g><use href="#aneu"/></g><g transform="translate(452.4,537.6)"><g clip-path="url(#tclip)"><use href="#vessel"/><path d="M357.2,136.0 C357.7,134.9 358.8,131.5 360.0,129.5 C361.2,127.5 362.7,125.7 364.3,124.2 C365.9,122.7 367.6,121.4 369.5,120.3 C371.4,119.2 374.9,117.9 376.0,117.4" fill="none" stroke="#505050" stroke-width="4.6" stroke-linecap="butt"/><path d="M357.2,136.0 C357.7,134.9 358.8,131.5 360.0,129.5 C361.2,127.5 362.7,125.7 364.3,124.2 C365.9,122.7 367.6,121.4 369.5,120.3 C371.4,119.2 374.9,117.9 376.0,117.4" fill="none" stroke="#8e8e8e" stroke-width="3" stroke-linecap="butt"/><g clip-path="url(#mainclip)"><path d="M241.5,116.0 C243.2,115.6 248.4,114.9 252.0,113.8 C255.6,112.7 259.3,111.2 263.0,109.5 C266.7,107.8 270.3,105.6 274.0,103.5 C277.7,101.4 281.3,99.2 285.0,97.0 C288.7,94.8 292.3,92.2 296.0,90.0 C299.7,87.8 303.2,85.4 307.0,83.5 C310.8,81.6 314.5,79.8 319.0,78.5 C323.5,77.2 331.5,76.0 334.0,75.5" fill="none" stroke="#f6bcb4" stroke-opacity="0.45" stroke-width="8" stroke-linecap="butt"/><path d="M241.5,116.0 C243.2,115.6 248.4,114.9 252.0,113.8 C255.6,112.7 259.3,111.2 263.0,109.5 C266.7,107.8 270.3,105.6 274.0,103.5 C277.7,101.4 281.3,99.2 285.0,97.0 C288.7,94.8 292.3,92.2 296.0,90.0 C299.7,87.8 303.2,85.4 307.0,83.5 C310.8,81.6 314.5,79.8 319.0,78.5 C323.5,77.2 331.5,76.0 334.0,75.5" fill="none" stroke="url(#mesh)" stroke-width="8" stroke-linecap="butt"/></g><path d="M334.2,75.4 C336.3,75.8 342.7,76.6 347.0,77.6 C351.3,78.6 356.2,80.2 359.8,81.5 C363.4,82.8 365.8,83.9 368.5,85.2 C371.2,86.5 373.8,88.2 376.0,89.6 C378.2,91.0 380.2,92.2 382.0,93.5 C383.8,94.8 385.5,96.2 386.8,97.7 C388.1,99.2 389.1,100.6 390.0,102.2 C390.9,103.8 391.6,104.8 392.2,107.2 C392.8,109.6 393.4,113.4 393.6,116.6 C393.8,119.8 393.7,122.9 393.6,126.1 C393.5,129.3 393.1,134.3 393.0,136.0" fill="none" stroke="#2a2a2a" stroke-width="0.8" stroke-linecap="round"/><path d="M334.2,76.6 C336.3,77.0 342.8,77.8 347.0,78.8 C351.2,79.8 355.9,81.4 359.4,82.7 C362.9,84.0 365.4,85.1 368.0,86.4 C370.6,87.7 373.1,89.3 375.3,90.7 C377.5,92.1 379.4,93.3 381.2,94.6 C382.9,95.9 384.5,97.2 385.8,98.6 C387.1,100.0 388.1,101.5 389.0,103.0 C389.9,104.5 390.4,105.5 391.0,107.8 C391.6,110.1 392.1,113.8 392.3,116.8 C392.5,119.8 392.4,122.9 392.3,126.1 C392.2,129.3 391.8,134.3 391.7,136.0" fill="none" stroke="#2a2a2a" stroke-width="0.8" stroke-linecap="round"/></g><use href="#aneu"/></g><rect x="6.6" y="402" width="18" height="20.6" fill="url(#stubg)"/><path d="M105.6,303.0 C105.3,304.7 104.3,309.0 104.0,313.0 C103.7,317.0 103.5,322.5 103.8,327.0 C104.1,331.5 105.2,335.8 106.0,340.0 C106.8,344.2 108.1,350.0 108.5,352.0 L122.8,352.0 C122.8,352.0 122.9,353.3 122.8,352.0 C122.7,350.7 122.2,346.2 122.3,344.0 C122.4,341.8 122.7,339.7 123.5,338.5 C124.3,337.3 124.9,337.5 127.0,337.0 C129.1,336.5 132.7,336.8 136.0,335.5 C139.3,334.2 143.9,331.8 146.8,329.2 C149.7,326.6 151.8,323.2 153.2,320.0 C154.6,316.8 154.9,312.8 155.0,310.0 C155.1,307.2 153.9,304.2 153.7,303.0Z" fill="#e8968b"/><path d="M105.6,303.0 C105.3,304.7 104.3,309.0 104.0,313.0 C103.7,317.0 103.5,322.5 103.8,327.0 C104.1,331.5 105.2,335.8 106.0,340.0 C106.8,344.2 108.1,350.0 108.5,352.0 M122.8,352.0 C122.7,350.7 122.2,346.2 122.3,344.0 C122.4,341.8 122.7,339.7 123.5,338.5 C124.3,337.3 124.9,337.5 127.0,337.0 C129.1,336.5 132.7,336.8 136.0,335.5 C139.3,334.2 143.9,331.8 146.8,329.2 C149.7,326.6 151.8,323.2 153.2,320.0 C154.6,316.8 154.9,312.8 155.0,310.0 C155.1,307.2 153.9,304.2 153.7,303.0" fill="none" stroke="#cc4c19" stroke-width="2" stroke-linejoin="round"/><path d="M114.2,338.0 C114.2,340.8 114.8,349.7 114.5,355.0 C114.2,360.3 113.9,365.7 112.5,370.0 C111.1,374.3 108.9,377.8 106.0,381.0 C103.1,384.2 99.3,387.2 95.0,389.0 C90.7,390.8 85.0,391.3 80.0,391.5 C75.0,391.7 69.5,390.9 65.0,390.0 C60.5,389.1 56.9,387.8 52.7,386.4 C48.5,385.0 44.1,382.8 40.0,381.5 C35.9,380.2 31.3,378.6 28.0,378.5 C24.7,378.4 21.9,379.1 20.0,381.0 C18.1,382.9 17.2,386.8 16.5,390.0 C15.8,393.2 15.8,397.3 15.6,400.0 C15.4,402.7 15.5,405.0 15.5,406.0" fill="none" stroke="#cc4c19" stroke-width="17.4" stroke-linecap="butt" stroke-linejoin="round"/><path d="M114.2,338.0 C114.2,340.8 114.8,349.7 114.5,355.0 C114.2,360.3 113.9,365.7 112.5,370.0 C111.1,374.3 108.9,377.8 106.0,381.0 C103.1,384.2 99.3,387.2 95.0,389.0 C90.7,390.8 85.0,391.3 80.0,391.5 C75.0,391.7 69.5,390.9 65.0,390.0 C60.5,389.1 56.9,387.8 52.7,386.4 C48.5,385.0 44.1,382.8 40.0,381.5 C35.9,380.2 31.3,378.6 28.0,378.5 C24.7,378.4 21.9,379.1 20.0,381.0 C18.1,382.9 17.2,386.8 16.5,390.0 C15.8,393.2 15.8,397.3 15.6,400.0 C15.4,402.7 15.5,405.0 15.5,406.0" fill="none" stroke="#e8968b" stroke-width="13.4" stroke-linecap="butt" stroke-linejoin="round"/><ellipse cx="15.5" cy="405.5" rx="8.2" ry="2.2" fill="none" stroke="#cc4c19" stroke-width="1.6"/><g transform="translate(-160,206) scale(0.75)"><g clip-path="url(#tclip)"><use href="#vessel"/><path d="M357.2,136.0 C357.7,134.9 358.8,131.5 360.0,129.5 C361.2,127.5 362.7,125.7 364.3,124.2 C365.9,122.7 367.6,121.4 369.5,120.3 C371.4,119.2 374.9,117.9 376.0,117.4" fill="none" stroke="#505050" stroke-width="4.6" stroke-linecap="butt"/><path d="M357.2,136.0 C357.7,134.9 358.8,131.5 360.0,129.5 C361.2,127.5 362.7,125.7 364.3,124.2 C365.9,122.7 367.6,121.4 369.5,120.3 C371.4,119.2 374.9,117.9 376.0,117.4" fill="none" stroke="#8e8e8e" stroke-width="3" stroke-linecap="butt"/></g></g><ellipse cx="130" cy="315.5" rx="9.5" ry="5.6" transform="rotate(-38 130 315.5)" fill="#fff" stroke="#cc4c19" stroke-width="2"/><path d="M112.2,303.5 C112.1,304.9 111.3,308.9 111.3,312.0 C111.3,315.1 111.5,318.7 112.0,322.0 C112.5,325.3 113.6,329.0 114.5,332.0 C115.4,335.0 117.0,338.7 117.5,340.0" fill="none" stroke="#cc4c19" stroke-width="1.7"/><path d="M147.5,303.0 C148.0,304.5 150.4,308.8 150.5,312.0 C150.6,315.2 149.8,319.2 148.0,322.0 C146.2,324.8 142.8,327.3 140.0,329.0 C137.2,330.7 132.5,331.5 131.0,332.0" fill="none" stroke="#4a4a4a" stroke-width="4.2"/><path d="M147.5,303.0 C148.0,304.5 150.4,308.8 150.5,312.0 C150.6,315.2 149.8,319.2 148.0,322.0 C146.2,324.8 142.8,327.3 140.0,329.0 C137.2,330.7 132.5,331.5 131.0,332.0" fill="none" stroke="#9a9a9a" stroke-width="2.6" stroke-dasharray="0.8 0.8"/><path d="M108.5,300.0 C108.2,302.0 106.8,307.7 106.5,312.0 C106.2,316.3 106.2,321.0 107.0,326.0 C107.8,331.0 109.5,337.7 111.0,342.0 C112.5,346.3 114.7,349.5 116.0,352.0 C117.3,354.5 118.5,356.2 119.0,357.0" fill="none" stroke="#4a4a4a" stroke-width="4.2"/><path d="M108.5,300.0 C108.2,302.0 106.8,307.7 106.5,312.0 C106.2,316.3 106.2,321.0 107.0,326.0 C107.8,331.0 109.5,337.7 111.0,342.0 C112.5,346.3 114.7,349.5 116.0,352.0 C117.3,354.5 118.5,356.2 119.0,357.0" fill="none" stroke="#9a9a9a" stroke-width="2.6" stroke-dasharray="0.8 0.8"/><path d="M120.3,357.4 C120.2,358.8 120.6,362.1 119.8,365.5 C119.0,368.9 117.6,373.8 115.2,377.6 C112.8,381.4 109.7,385.5 105.6,388.3 C101.5,391.1 94.7,393.7 90.4,394.6 C86.1,395.6 83.4,394.5 80.0,394.0 C76.6,393.5 74.0,392.8 70.2,391.5 C66.4,390.2 61.5,387.9 57.1,386.0 C52.7,384.1 48.3,381.5 43.9,380.0 C39.5,378.5 34.2,377.3 30.7,377.1 C27.2,376.9 24.8,377.8 22.8,378.9 C20.8,380.0 20.1,381.3 18.9,383.7 C17.7,386.1 16.5,390.1 15.8,393.4 C15.1,396.7 15.1,401.8 14.9,403.5" fill="none" stroke="#1d20a8" stroke-width="5.4" stroke-linecap="round"/><path d="M120.3,357.4 C120.2,358.8 120.6,362.1 119.8,365.5 C119.0,368.9 117.6,373.8 115.2,377.6 C112.8,381.4 109.7,385.5 105.6,388.3 C101.5,391.1 94.7,393.7 90.4,394.6 C86.1,395.6 83.4,394.5 80.0,394.0 C76.6,393.5 74.0,392.8 70.2,391.5 C66.4,390.2 61.5,387.9 57.1,386.0 C52.7,384.1 48.3,381.5 43.9,380.0 C39.5,378.5 34.2,377.3 30.7,377.1 C27.2,376.9 24.8,377.8 22.8,378.9 C20.8,380.0 20.1,381.3 18.9,383.7 C17.7,386.1 16.5,390.1 15.8,393.4 C15.1,396.7 15.1,401.8 14.9,403.5" fill="none" stroke="#3a44d4" stroke-width="1.8" stroke-linecap="round" filter="url(#bl05)"/><path d="M16.6,381.2 L22.6,383.6" fill="none" stroke="#fff" stroke-width="1.3"/><circle cx="129" cy="332.5" r="2" fill="#333"/><path d="M20.1,292.6 C21.6,292.2 26.0,291.7 29.0,290.8 C32.0,289.8 35.0,288.4 38.0,287.0 C41.0,285.6 44.1,283.6 47.0,282.1 C49.9,280.7 52.5,279.8 55.2,278.4 C58.0,277.0 60.9,275.4 63.5,273.9 C66.1,272.4 68.2,270.9 71.0,269.4 C73.8,267.9 76.9,266.1 80.0,264.9 C83.1,263.6 86.2,262.6 89.8,261.9 C93.2,261.1 97.1,260.6 101.0,260.4 C104.9,260.1 109.2,260.0 113.0,260.4 C116.8,260.8 120.4,261.4 123.5,262.6 C126.6,263.8 129.6,265.4 131.8,267.5 C133.9,269.6 135.8,271.1 136.6,275.0 C137.4,278.9 137.4,286.8 136.5,291.0 C135.6,295.2 133.4,297.0 131.0,300.0 C128.6,303.0 124.5,306.0 122.0,309.0 C119.5,312.0 117.2,315.0 116.0,318.0 C114.8,321.0 114.0,324.5 114.5,327.0 C115.0,329.5 116.8,331.8 119.0,333.0 C121.2,334.2 126.5,334.2 128.0,334.5" fill="none" stroke="#7a7a7a" stroke-width="2.9000000000000004" stroke-linecap="round"/><path d="M20.1,292.6 C21.6,292.2 26.0,291.7 29.0,290.8 C32.0,289.8 35.0,288.4 38.0,287.0 C41.0,285.6 44.1,283.6 47.0,282.1 C49.9,280.7 52.5,279.8 55.2,278.4 C58.0,277.0 60.9,275.4 63.5,273.9 C66.1,272.4 68.2,270.9 71.0,269.4 C73.8,267.9 76.9,266.1 80.0,264.9 C83.1,263.6 86.2,262.6 89.8,261.9 C93.2,261.1 97.1,260.6 101.0,260.4 C104.9,260.1 109.2,260.0 113.0,260.4 C116.8,260.8 120.4,261.4 123.5,262.6 C126.6,263.8 129.6,265.4 131.8,267.5 C133.9,269.6 135.8,271.1 136.6,275.0 C137.4,278.9 137.4,286.8 136.5,291.0 C135.6,295.2 133.4,297.0 131.0,300.0 C128.6,303.0 124.5,306.0 122.0,309.0 C119.5,312.0 117.2,315.0 116.0,318.0 C114.8,321.0 114.0,324.5 114.5,327.0 C115.0,329.5 116.8,331.8 119.0,333.0 C121.2,334.2 126.5,334.2 128.0,334.5" fill="none" stroke="#fbfbfb" stroke-width="1.6" stroke-linecap="round"/><g transform="translate(-160,206) scale(0.75)"><use href="#aneu"/></g></g>
<line x1="0" y1="5" x2="191" y2="5" stroke="#5a5a5a" stroke-width="1.5"/>
<line x1="191" y1="5" x2="1037" y2="5" stroke="#525c8a" stroke-width="1.6"/>
<line x1="191.5" y1="5" x2="191.5" y2="335" stroke="#7c86b2" stroke-width="1"/>
<line x1="191" y1="335.4" x2="1037" y2="335.4" stroke="#4c8874" stroke-width="1.1"/>
<line x1="191" y1="336.5" x2="1037" y2="336.5" stroke="#b4e0b0" stroke-width="0.9"/>
<line x1="191.5" y1="336" x2="191.5" y2="736" stroke="#84d494" stroke-width="1"/>
<line x1="0" y1="736.3" x2="191" y2="736.3" stroke="#333" stroke-width="1.3"/>
<line x1="191" y1="736.3" x2="1037" y2="736.3" stroke="#32944e" stroke-width="1.3"/>
<line x1="184.5" y1="316.4" x2="223.6" y2="137.0" stroke="#000" stroke-width="2.0" stroke-linecap="butt"/><polygon points="224.9,131.1 226.8,138.2 220.2,136.7" fill="#000"/><line x1="184.5" y1="316.4" x2="216.5" y2="286.9" stroke="#000" stroke-width="2.0" stroke-linecap="butt"/><polygon points="220.9,282.8 218.4,289.7 213.8,284.7" fill="#000"/><line x1="184.5" y1="316.4" x2="225.4" y2="438.2" stroke="#000" stroke-width="2.0" stroke-linecap="butt"/><polygon points="227.3,443.9 222.0,438.8 228.5,436.7" fill="#000"/><line x1="470.2" y1="94.3" x2="612.2" y2="94.3" stroke="#000" stroke-width="2.0" stroke-linecap="butt"/><polygon points="618.2,94.3 611.7,97.7 611.7,90.9" fill="#000"/><line x1="470.2" y1="254.8" x2="612.2" y2="254.8" stroke="#000" stroke-width="2.0" stroke-linecap="butt"/><polygon points="618.2,254.8 611.7,258.2 611.7,251.4" fill="#000"/><line x1="355.8" y1="446.9" x2="382.0" y2="428.2" stroke="#000" stroke-width="2.0" stroke-linecap="butt"/><polygon points="386.9,424.7 383.6,431.2 379.6,425.7" fill="#000"/><line x1="355.8" y1="570.2" x2="382.2" y2="589.5" stroke="#000" stroke-width="2.0" stroke-linecap="butt"/><polygon points="387.0,593.0 379.7,591.9 383.8,586.4" fill="#000"/><line x1="619.0" y1="400.6" x2="652.0" y2="400.6" stroke="#000" stroke-width="2.0" stroke-linecap="butt"/><polygon points="658.0,400.6 651.5,404.0 651.5,397.2" fill="#000"/><line x1="624.0" y1="625.6" x2="657.0" y2="625.6" stroke="#000" stroke-width="2.0" stroke-linecap="butt"/><polygon points="663.0,625.6 656.5,629.0 656.5,622.2" fill="#000"/>
<text x="229.1" y="146.0" font-size="11.4" fill="#2e2e2e" stroke="#2e2e2e" stroke-width="0.18" textLength="219.6" lengthAdjust="spacingAndGlyphs">Microcatheterization of another MCA branch</text><text x="693.6" y="151.9" font-size="11.4" fill="#2e2e2e" stroke="#2e2e2e" stroke-width="0.18" textLength="130.96" lengthAdjust="spacingAndGlyphs">Deployment of both stents</text><text x="225.0" y="302.2" font-size="11.4" fill="#2e2e2e" stroke="#2e2e2e" stroke-width="0.18" textLength="227.7" lengthAdjust="spacingAndGlyphs">Microcatheterization of the same MCA branch</text><text x="693.6" y="307.8" font-size="11.4" fill="#2e2e2e" stroke="#2e2e2e" stroke-width="0.18" textLength="130.96" lengthAdjust="spacingAndGlyphs">Deployment of both stents</text><text x="401.9" y="460.5" font-size="11.4" fill="#2e2e2e" stroke="#2e2e2e" stroke-width="0.18" textLength="219.6" lengthAdjust="spacingAndGlyphs">Microcatheterization of another MCA branch</text><text x="693.3" y="460.6" font-size="11.4" fill="#2e2e2e" stroke="#2e2e2e" stroke-width="0.18" textLength="158.4" lengthAdjust="spacingAndGlyphs">Deployment of the second stent</text><text x="245.1" y="555.1" font-size="11.4" fill="#2e2e2e" stroke="#2e2e2e" stroke-width="0.18" textLength="140.3" lengthAdjust="spacingAndGlyphs">Deployment of the first stent</text><text x="391.4" y="683.2" font-size="11.4" fill="#2e2e2e" stroke="#2e2e2e" stroke-width="0.18" textLength="227.7" lengthAdjust="spacingAndGlyphs">Microcatheterization of the same MCA branch</text><text x="697.3" y="683.3" font-size="11.4" fill="#2e2e2e" stroke="#2e2e2e" stroke-width="0.18" textLength="158.4" lengthAdjust="spacingAndGlyphs">Deployment of the second stent</text><text x="-10.0" y="438.3" font-size="11.4" fill="#2e2e2e" stroke="#2e2e2e" stroke-width="0.18" textLength="188.4" lengthAdjust="spacingAndGlyphs">Microcatheterization of a MCA branch</text><text x="930.8" y="97.1" font-size="11.4" font-weight="bold" text-anchor="middle" fill="#111" textLength="49.3" lengthAdjust="spacingAndGlyphs">Y-SHAPE</text><text x="932.3" y="110.7" font-size="11.4" font-weight="bold" text-anchor="middle" fill="#111" textLength="93.8" lengthAdjust="spacingAndGlyphs">CONFIGURATION</text><text x="932.3" y="244.2" font-size="11.4" font-weight="bold" text-anchor="middle" fill="#111" textLength="58.9" lengthAdjust="spacingAndGlyphs">PARALLEL</text><text x="932.3" y="257.7" font-size="11.4" font-weight="bold" text-anchor="middle" fill="#111" textLength="93.8" lengthAdjust="spacingAndGlyphs">CONFIGURATION</text><text x="931.6" y="406.5" font-size="11.4" font-weight="bold" text-anchor="middle" fill="#111" textLength="49.3" lengthAdjust="spacingAndGlyphs">Y-SHAPE</text><text x="933.1" y="419.8" font-size="11.4" font-weight="bold" text-anchor="middle" fill="#111" textLength="93.8" lengthAdjust="spacingAndGlyphs">CONFIGURATION</text><text x="937.3" y="628.5" font-size="11.4" font-weight="bold" text-anchor="middle" fill="#111" textLength="58.9" lengthAdjust="spacingAndGlyphs">PARALLEL</text><text x="936.8" y="641.8" font-size="11.4" font-weight="bold" text-anchor="middle" fill="#111" textLength="93.8" lengthAdjust="spacingAndGlyphs">CONFIGURATION</text><text x="847.4" y="20.2" font-size="11.4" font-weight="bold" fill="#1b2468" textLength="169.9" lengthAdjust="spacingAndGlyphs">SIMULTANEOUS DEPLOYMENT</text><text x="859.9" y="729.4" font-size="11.4" font-weight="bold" fill="#2f6230" textLength="153.7" lengthAdjust="spacingAndGlyphs">SEQUENTIAL DEPLOYMENT</text>
</svg>
</body></html>
